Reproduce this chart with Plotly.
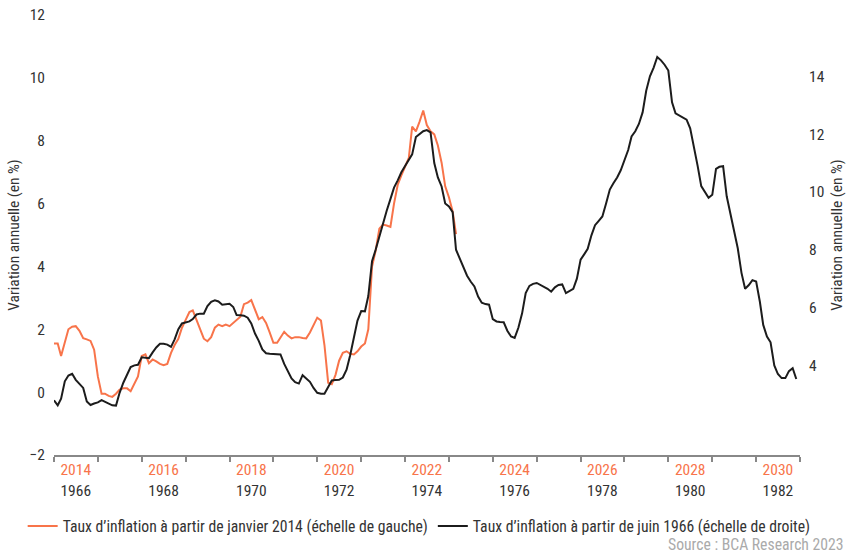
import pandas as pd
import plotly.graph_objects as go

# ---------------------------------------------------------------------------
# Data (annual % change, monthly)
# ---------------------------------------------------------------------------

ORANGE = "#F8744A"
BLACK = "#1c1c1c"
FONT = "Liberation Sans Narrow, Roboto Condensed, Arial Narrow, Roboto, sans-serif"

# inflation from January 2014 (left scale)
infl_2014 = [
    1.55, 1.55, 1.15, 1.6, 2.0, 2.08, 2.1, 1.95, 1.72, 1.68, 1.63, 1.35,
    0.5, -0.05, -0.05, -0.12, -0.15, -0.05, 0.08, 0.12, 0.12, 0.03, 0.25, 0.5,
    1.15, 1.2, 0.92, 1.04, 0.98, 0.9, 0.86, 0.9, 1.25, 1.5, 1.7, 2.05,
    2.3, 2.55, 2.6, 2.3, 1.95, 1.7, 1.62, 1.75, 2.05, 2.15, 2.1, 2.15,
    2.1, 2.2, 2.3, 2.4, 2.8, 2.85, 2.93, 2.6, 2.32, 2.39, 2.2, 1.9,
    1.57, 1.57, 1.75, 1.92, 1.8, 1.71, 1.75, 1.75, 1.72, 1.71, 1.9, 2.15,
    2.37, 2.28, 1.5, 0.3, 0.25, 0.55, 1.0, 1.25, 1.3, 1.22, 1.2, 1.3,
    1.45, 1.55, 2.0, 4.0, 4.5, 5.2, 5.33, 5.3, 5.26, 6.0, 6.6, 6.9,
    7.2, 7.45, 8.45, 8.3, 8.6, 8.96, 8.5, 8.3, 8.2, 7.85, 7.3, 6.55,
    6.2, 5.75, 5.03,
]

# inflation from June 1966 (right scale), drawn on the same calendar offset
infl_1966 = [
    2.79, 2.62, 2.85, 3.45, 3.65, 3.71, 3.5, 3.35, 3.22, 2.75, 2.63, 2.68,
    2.72, 2.8, 2.75, 2.67, 2.62, 2.61, 3.05, 3.4, 3.7, 3.94, 4.0, 4.02,
    4.28, 4.27, 4.25, 4.45, 4.62, 4.75, 4.75, 4.72, 4.64, 4.9, 5.25, 5.45,
    5.49, 5.52, 5.6, 5.76, 5.79, 5.79, 6.05, 6.2, 6.25, 6.21, 6.1, 6.12,
    6.13, 6.02, 5.74, 5.73, 5.72, 5.65, 5.45, 5.1, 4.85, 4.55, 4.42, 4.4,
    4.4, 4.4, 4.38, 4.05, 3.78, 3.55, 3.42, 3.37, 3.66, 3.55, 3.43, 3.22,
    3.05, 3.02, 3.02, 3.25, 3.48, 3.49, 3.5, 3.58, 3.85, 4.35, 4.95, 5.55,
    5.88, 5.87, 6.4, 7.6, 8.0, 8.45, 8.95, 9.35, 9.75, 10.15, 10.4, 10.68,
    10.9, 11.1, 11.3, 11.9, 12.0, 12.1, 12.14, 12.06, 11.0, 10.5, 10.19, 9.6,
    9.5, 9.3, 8.0, 7.7, 7.4, 7.1, 6.9, 6.73, 6.38, 6.17, 6.12, 6.1,
    5.6, 5.52, 5.5, 5.49, 5.2, 5.0, 4.95, 5.3, 5.8, 6.5, 6.75, 6.82,
    6.85, 6.78, 6.72, 6.65, 6.55, 6.7, 6.78, 6.8, 6.5, 6.58, 6.65, 7.0,
    7.66, 7.85, 8.03, 8.5, 8.85, 9.0, 9.15, 9.6, 10.08, 10.3, 10.5, 10.75,
    11.1, 11.45, 11.92, 12.1, 12.35, 12.75, 13.5, 14.0, 14.3, 14.67, 14.55, 14.4,
    14.2, 13.1, 12.72, 12.65, 12.58, 12.5, 12.2, 11.6, 10.9, 10.2, 10.0, 9.8,
    9.9, 10.8, 10.87, 10.89, 9.85, 9.2, 8.6, 8.05, 7.2, 6.65, 6.78, 6.95,
    6.9, 6.2, 5.4, 5.0, 4.8, 4.0, 3.7, 3.56, 3.56, 3.8, 3.9, 3.53,
]

years_top = ["2014", "2016", "2018", "2020", "2022", "2024", "2026", "2028", "2030"]
years_bottom = ["1966", "1968", "1970", "1972", "1974", "1976", "1978", "1980", "1982"]

left_ticks = [-2, 0, 2, 4, 6, 8, 10, 12]
right_ticks = [4, 6, 8, 10, 12, 14]

# ---------------------------------------------------------------------------

start = pd.Timestamp("2014-01-01")
x_2014 = pd.date_range(start, periods=len(infl_2014), freq="MS")
x_1966 = pd.date_range(start, periods=len(infl_1966), freq="MS")

label_pos = [pd.Timestamp(f"{y}-07-01") for y in years_top]
label_text = [
    f'<span style="color:{ORANGE}">{a}</span><br>{b}'
    for a, b in zip(years_top, years_bottom)
]
year_edges = pd.date_range("2014-01-01", "2031-01-01", freq="YS")

fig = go.Figure()

fig.add_trace(go.Scatter(
    x=x_2014,
    y=infl_2014,
    mode="lines",
    line=dict(color=ORANGE, width=2),
    name="Taux d’inflation à partir de janvier 2014 (échelle de gauche)",
))

fig.add_trace(go.Scatter(
    x=x_1966,
    y=infl_1966,
    mode="lines",
    line=dict(color=BLACK, width=2),
    name="Taux d’inflation à partir de juin 1966 (échelle de droite)",
    yaxis="y2",
))

fig.add_annotation(
    text="Source : BCA Research 2023",
    xref="paper", yref="paper",
    x=1.0617, y=-0.2045,
    xanchor="right", yanchor="middle",
    showarrow=False,
    font=dict(size=15.7, color="#aaaaaa"),
)

fig.update_layout(
    width=846,
    height=557,
    margin=dict(l=54, r=46, t=15, b=102),
    plot_bgcolor="white",
    paper_bgcolor="white",
    font=dict(family=FONT, size=15.5, color="#333333"),
    showlegend=True,
    legend=dict(
        orientation="h",
        x=-0.042, xanchor="left",
        y=-0.162, yanchor="middle",
        font=dict(size=15.7, color="#333333"),
        itemwidth=30,
        bgcolor="rgba(0,0,0,0)",
    ),
    xaxis=dict(
        type="date",
        automargin=False,
        range=[year_edges[0], year_edges[-1]],
        tickmode="array",
        tickvals=label_pos,
        ticktext=label_text,
        ticks="",
        showgrid=False,
        zeroline=False,
        showline=True,
        linecolor="#888888",
        linewidth=1.5,
        tickfont=dict(size=15.5, color="#333333"),
        minor=dict(
            tickmode="array",
            tickvals=year_edges,
            ticks="outside",
            ticklen=5,
            tickcolor="#888888",
            tickwidth=1.5,
            showgrid=False,
        ),
    ),
    yaxis=dict(
        automargin=False,
        range=[-2, 12],
        tickvals=left_ticks,
        showgrid=False,
        zeroline=False,
        showline=False,
        ticks="",
        ticklabelstandoff=8,
        title=dict(text="Variation annuelle (en %)", standoff=6,
                   font=dict(size=15.5, color="#333333")),
    ),
    yaxis2=dict(
        automargin=False,
        range=[0.9, 16.12],
        tickvals=right_ticks,
        overlaying="y",
        side="right",
        showgrid=False,
        zeroline=False,
        showline=False,
        ticks="",
        ticklabelstandoff=8,
        title=dict(text="Variation annuelle (en %)", standoff=32,
                   font=dict(size=15.5, color="#333333")),
    ),
)

# drop the default page margin so the figure sits at the window's top-left
fig.write_html(
    "out.html",
    config={"displayModeBar": False},
    post_script="document.body.style.margin = '0';",
)
